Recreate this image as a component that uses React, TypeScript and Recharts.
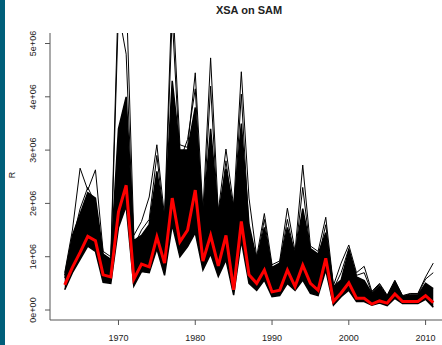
import React from 'react';
import { ComposedChart, Area, Line, XAxis, YAxis } from 'recharts';

// values in units of 1e6
const years = [
  1963, 1964, 1965, 1966, 1967, 1968, 1969, 1970, 1971, 1972,
  1973, 1974, 1975, 1976, 1977, 1978, 1979, 1980, 1981, 1982,
  1983, 1984, 1985, 1986, 1987, 1988, 1989, 1990, 1991, 1992,
  1993, 1994, 1995, 1996, 1997, 1998, 1999, 2000, 2001, 2002,
  2003, 2004, 2005, 2006, 2007, 2008, 2009, 2010, 2011,
];

// the XSA fit (red)
const xsaR = [
  0.47, 0.8, 1.08, 1.38, 1.3, 0.66, 0.62, 1.84, 2.34, 0.58,
  0.86, 0.81, 1.37, 0.88, 2.1, 1.28, 1.5, 2.25, 0.92, 1.4,
  0.83, 1.4, 0.38, 1.66, 0.66, 0.5, 0.75, 0.34, 0.37, 0.75,
  0.44, 0.84, 0.5, 0.37, 0.97, 0.16, 0.32, 0.51, 0.22, 0.22,
  0.11, 0.17, 0.13, 0.3, 0.16, 0.16, 0.16, 0.27, 0.14,
];

// lower and upper edge of the dense black bundle of iterations
const iterLow = [
  0.38, 0.7, 0.95, 1.2, 1.1, 0.52, 0.5, 1.55, 1.95, 0.45,
  0.72, 0.7, 1.15, 0.65, 1.6, 1.0, 1.19, 1.45, 0.75, 1.05,
  0.63, 0.94, 0.28, 1.3, 0.5, 0.37, 0.56, 0.25, 0.27, 0.5,
  0.37, 0.56, 0.31, 0.27, 0.75, 0.09, 0.25, 0.37, 0.16, 0.16,
  0.09, 0.13, 0.08, 0.22, 0.12, 0.12, 0.12, 0.2, 0.05,
];
const iterHigh = [
  0.65, 1.4, 1.8, 2.2, 2.1, 1.05, 0.95, 3.4, 4.0, 1.3,
  1.4, 1.6, 2.6, 1.7, 4.3, 3.0, 3.0, 3.8, 1.75, 3.4,
  1.8, 2.65, 1.9, 3.5, 1.6, 0.95, 1.55, 0.8, 0.88, 1.55,
  1.05, 1.9, 1.15, 1.05, 1.45, 0.44, 0.56, 1.12, 0.62, 0.55,
  0.31, 0.45, 0.25, 0.52, 0.25, 0.28, 0.28, 0.5, 0.4,
];

// two iterations that stick out of the bundle
const iterMax = [
  0.7, 1.5, 2.66, 2.25, 2.63, 1.1, 1.0, 6.0, 6.0, 1.4,
  1.66, 2.12, 3.1, 1.75, 6.0, 3.1, 3.05, 4.45, 1.85, 4.73,
  1.85, 3.02, 1.95, 4.47, 2.1, 1.0, 1.81, 0.85, 0.92, 1.91,
  1.1, 2.72, 1.2, 1.1, 1.74, 0.46, 0.88, 1.22, 0.7, 0.82,
  0.35, 0.5, 0.28, 0.56, 0.27, 0.31, 0.31, 0.62, 0.88,
];
const iterNext = [
  0.6, 1.3, 1.9, 2.3, 2.0, 1.0, 0.9, 5.6, 4.8, 1.2,
  1.5, 1.7, 2.9, 1.6, 5.5, 2.8, 3.2, 4.15, 1.6, 4.2,
  1.6, 2.8, 1.7, 4.05, 1.5, 0.9, 1.7, 0.75, 0.85, 1.7,
  1.0, 2.3, 1.1, 0.95, 1.6, 0.4, 0.7, 1.15, 0.65, 0.7,
  0.33, 0.48, 0.26, 0.54, 0.26, 0.3, 0.3, 0.58, 0.7,
];

const yTicks = [0, 1, 2, 3, 4, 5];
const xTicks = [1970, 1980, 1990, 2000, 2010];

const data = years.map((year, i) => ({
  year,
  xsa: xsaR[i],
  band: [iterLow[i], iterHigh[i]],
  max: iterMax[i],
  next: iterNext[i],
}));

const FONT = '"Liberation Sans", Arial, sans-serif';

const YTick = ({ x, y, payload }: any) => (
  <text
    x={x - 7}
    y={y}
    transform={`rotate(-90, ${x - 7}, ${y})`}
    textAnchor="middle"
    fontSize={9}
    fontFamily={FONT}
    fill="#222"
  >
    {`${payload.value}e+0${payload.value === 0 ? 0 : 6}`}
  </text>
);

const XTick = ({ x, y, payload }: any) => (
  <text x={x} y={y + 14} textAnchor="middle" fontSize={9} fontFamily={FONT} fill="#222">
    {payload.value}
  </text>
);

export default function App() {
  return (
    <div style={{ position: 'relative', width: 442, height: 345, overflow: 'hidden', background: '#fff' }}>
      <style>{'body{margin:0}'}</style>
      <div style={{ position: 'absolute', left: 0, top: 0, width: 5, height: 345, background: '#005f7a' }} />
      <div
        style={{
          position: 'absolute', left: 0, width: 498, top: 4, textAlign: 'center',
          fontFamily: FONT, fontWeight: 'bold', fontSize: 11, color: '#222',
        }}
      >
        XSA on SAM
      </div>
      <div
        style={{
          position: 'absolute', left: 12, top: 175, transform: 'translate(-50%, -50%) rotate(-90deg)',
          fontFamily: FONT, fontSize: 9, color: '#222',
        }}
      >
        R
      </div>
      <div style={{ position: 'absolute', left: 0, top: 0 }}>
        <ComposedChart width={460} height={345} data={data} margin={{ top: 33, right: 12, left: 0, bottom: 0 }}>
          <XAxis
            dataKey="year"
            type="number"
            domain={[1961.08, 2012.92]}
            allowDataOverflow
            ticks={xTicks}
            tick={<XTick />}
            tickSize={5}
            height={25}
            stroke="#555"
            interval={0}
          />
          <XAxis
            xAxisId="top"
            dataKey="year"
            type="number"
            orientation="top"
            domain={[1961.08, 2012.92]}
            allowDataOverflow
            tick={false}
            tickLine={false}
            height={0}
            stroke="#222"
          />
          <YAxis
            type="number"
            domain={[-0.1875, 5.197]}
            allowDataOverflow
            ticks={yTicks}
            tick={<YTick />}
            tickSize={5}
            width={50}
            stroke="#555"
            interval={0}
          />
          <Area
            dataKey="band"
            type="linear"
            fill="#000"
            fillOpacity={1}
            stroke="#000"
            strokeWidth={1.5}
            isAnimationActive={false}
            dot={false}
            activeDot={false}
          />
          <Line dataKey="next" type="linear" stroke="#000" strokeWidth={1} dot={false} activeDot={false} isAnimationActive={false} />
          <Line dataKey="max" type="linear" stroke="#000" strokeWidth={1} dot={false} activeDot={false} isAnimationActive={false} />
          <Line dataKey="xsa" type="linear" stroke="#ff0000" strokeWidth={3} dot={false} activeDot={false} isAnimationActive={false} />
        </ComposedChart>
      </div>
    </div>
  );
}
